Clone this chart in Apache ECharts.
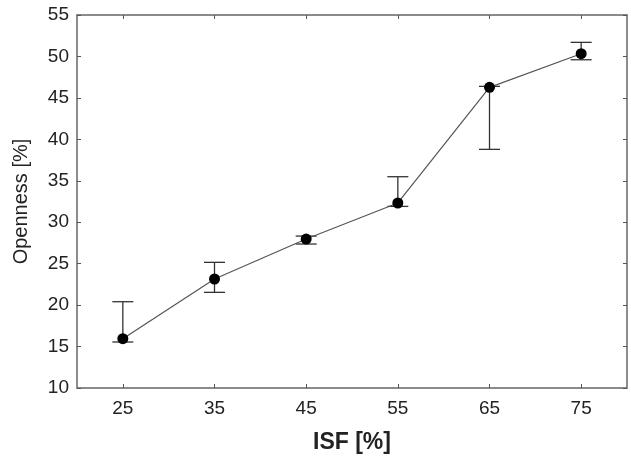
<!DOCTYPE html>
<html>
<head>
<meta charset="utf-8">
<script src="https://cdn.jsdelivr.net/npm/echarts@6/dist/echarts.min.js"></script>
<style>
html,body{margin:0;padding:0;background:#fff;}
#chart{width:631px;height:456px;}
</style>
</head>
<body>
<div id="chart"></div>
<script>
const isf = [25, 35, 45, 55, 65, 75];
const openness = [15.95, 23.15, 27.97, 32.32, 46.27, 50.33];
const errLow = [15.55, 21.54, 27.37, 31.91, 38.79, 49.6];
const errHigh = [20.41, 25.16, 28.33, 35.49, 46.39, 51.7];
const xTicks = [25, 35, 45, 55, 65, 75];

const chart = echarts.init(document.getElementById('chart'), null, {renderer: 'canvas'});
const font = '"Liberation Sans", Arial, sans-serif';
const axisLine = {show: true, lineStyle: {color: '#666', width: 1.5}};
const tick = {show: true, inside: true, length: 4, lineStyle: {color: '#555', width: 1}, customValues: xTicks};

const option = {
  animation: false,
  backgroundColor: '#fff',
  grid: {left: 77, right: 4, top: 15, bottom: 68, containLabel: false, outerBoundsMode: 'none'},
  xAxis: [{
    type: 'value', min: 20, max: 80, position: 'bottom',
    name: 'ISF [%]', nameLocation: 'middle', nameGap: 43,
    nameTextStyle: {fontFamily: font, fontSize: 23, fontWeight: 'bold', color: '#222'},
    axisLine: axisLine,
    axisTick: tick,
    axisLabel: {customValues: xTicks, fontFamily: font, fontSize: 19, color: '#222', margin: 11},
    splitLine: {show: false}
  }, {
    type: 'value', min: 20, max: 80, position: 'top',
    axisLine: axisLine,
    axisTick: tick,
    axisLabel: {show: false},
    splitLine: {show: false}
  }],
  yAxis: [{
    type: 'value', min: 10, max: 55, interval: 5, position: 'left',
    name: 'Openness [%]', nameLocation: 'middle', nameGap: 46, nameRotate: 90,
    nameTextStyle: {fontFamily: font, fontSize: 20, color: '#222'},
    axisLine: axisLine,
    axisTick: {show: true, inside: true, length: 4, lineStyle: {color: '#555', width: 1}},
    axisLabel: {fontFamily: font, fontSize: 19, color: '#222', margin: 8},
    splitLine: {show: false}
  }, {
    type: 'value', min: 10, max: 55, interval: 5, position: 'right',
    axisLine: axisLine,
    axisTick: {show: true, inside: true, length: 4, lineStyle: {color: '#555', width: 1}},
    axisLabel: {show: false},
    splitLine: {show: false}
  }],
  series: [{
    type: 'custom',
    xAxisIndex: 0, yAxisIndex: 0,
    data: isf.map((x, i) => [x, errLow[i], errHigh[i]]),
    renderItem: function (params, api) {
      const x = api.value(0);
      const lo = api.coord([x, api.value(1)]);
      const hi = api.coord([x, api.value(2)]);
      const hw = 10.5;
      const st = {stroke: '#333', lineWidth: 1.3};
      return {
        type: 'group',
        children: [
          {type: 'line', shape: {x1: lo[0], y1: lo[1], x2: hi[0], y2: hi[1]}, style: st},
          {type: 'line', shape: {x1: lo[0] - hw, y1: lo[1], x2: lo[0] + hw, y2: lo[1]}, style: st},
          {type: 'line', shape: {x1: hi[0] - hw, y1: hi[1], x2: hi[0] + hw, y2: hi[1]}, style: st}
        ]
      };
    },
    z: 2
  }, {
    type: 'line',
    xAxisIndex: 0, yAxisIndex: 0,
    data: isf.map((x, i) => [x, openness[i]]),
    symbol: 'circle', symbolSize: 11,
    lineStyle: {color: '#555', width: 1.2},
    itemStyle: {color: '#000', borderWidth: 0},
    z: 3
  }]
};
chart.setOption(option);
</script>
</body>
</html>
